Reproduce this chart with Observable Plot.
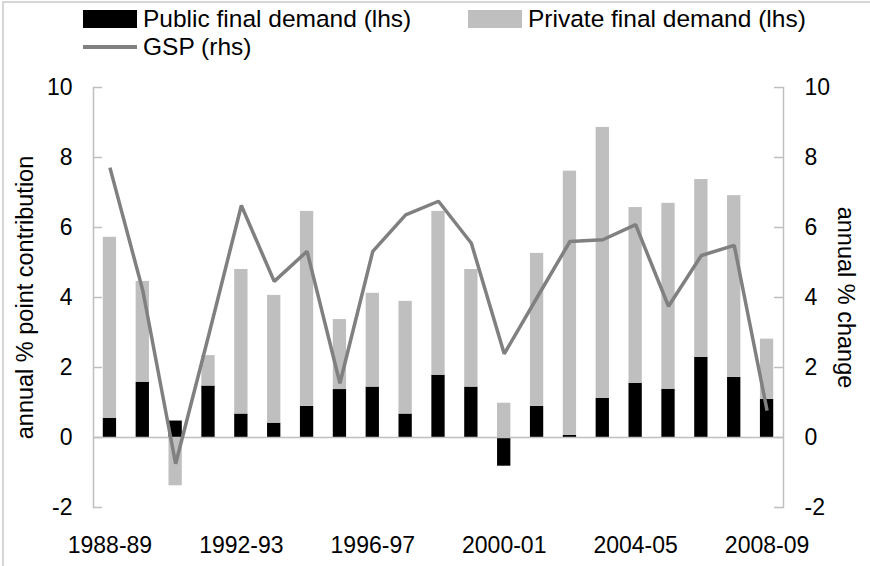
<!DOCTYPE html>
<html>
<head>
<meta charset="utf-8">
<script src="https://cdn.jsdelivr.net/npm/d3@7"></script>
<script src="https://cdn.jsdelivr.net/npm/@observablehq/plot@0.6"></script>
<style>
  body { margin: 0; background: #fff; }
  #wrap { position: relative; width: 870px; height: 566px; overflow: hidden;
          font-family: "Liberation Sans", Arial, sans-serif; background: #fff; }
  #chart { position: absolute; left: 0; top: 0; }
  #border { position: absolute; left: 2px; top: 1px; width: 900px; height: 600px;
            border-top: 2px solid #d6d6d6; border-left: 2px solid #d6d6d6; pointer-events: none; z-index: 2; }
  .sw { position: absolute; }
  .lt { position: absolute; font-size: 24.5px; line-height: 28px; color: #000; white-space: nowrap; }
</style>
</head>
<body>
<div id="wrap">
  <div id="chart"></div>
  <div id="border"></div>
  <div class="sw" style="left:83px;top:10px;width:54px;height:18px;background:#000"></div>
  <div class="lt" style="left:143px;top:5px">Public final demand (lhs)</div>
  <div class="sw" style="left:468px;top:10px;width:54px;height:18px;background:#bfbfbf"></div>
  <div class="lt" style="left:528px;top:5px">Private final demand (lhs)</div>
  <div class="sw" style="left:83px;top:45px;width:54px;height:4px;background:#808080"></div>
  <div class="lt" style="left:143px;top:33px">GSP (rhs)</div>
</div>
<script>
const years = ["1988-89","1989-90","1990-91","1991-92","1992-93","1993-94","1994-95","1995-96","1996-97","1997-98","1998-99","1999-00","2000-01","2001-02","2002-03","2003-04","2004-05","2005-06","2006-07","2007-08","2008-09"];
const publicDemand  = [0.55, 1.58, 0.47, 1.47, 0.67, 0.41, 0.89, 1.37, 1.44, 0.67, 1.78, 1.44, -0.82, 0.89, 0.06, 1.12, 1.55, 1.38, 2.29, 1.72, 1.09];
const privateDemand = [5.17, 2.88, -1.38, 0.87, 4.13, 3.65, 5.57, 2.00, 2.68, 3.22, 4.68, 3.36, 0.98, 4.37, 7.55, 7.74, 5.02, 5.31, 5.08, 5.19, 1.72];
const gsp           = [7.71, 4.20, -0.75, 2.90, 6.63, 4.46, 5.32, 1.55, 5.32, 6.36, 6.75, 5.55, 2.39, 4.00, 5.60, 5.65, 6.08, 3.75, 5.20, 5.49, 0.77];
const seriesNames = ["Public final demand (lhs)", "Private final demand (lhs)"];
const xTickLabels = ["1988-89","1992-93","1996-97","2000-01","2004-05","2008-09"];
const yTicks = [-2, 0, 2, 4, 6, 8, 10];
const leftTitle = "annual % point contribution";
const rightTitle = "annual % change";

const bars = years.flatMap((y, i) => [
  {year: y, series: seriesNames[0], value: publicDemand[i]},
  {year: y, series: seriesNames[1], value: privateDemand[i]}
]);
const line = years.map((y, i) => ({year: y, value: gsp[i]}));

const W = 870, H = 566, mL = 93, mR = 87, mT = 87, mB = 59;
const plotW = W - mL - mR;
const step = plotW / years.length;
const barInset = (step - 13.3) / 2;
const axisGray = "#bfbfbf";
const fmt = d => String(d);

const chart = Plot.plot({
  width: W, height: H,
  marginTop: mT, marginBottom: mB, marginLeft: mL, marginRight: mR,
  style: {fontFamily: '"Liberation Sans", Arial, sans-serif', fontSize: "23px", color: "#000", background: "transparent"},
  x: {type: "band", domain: years, padding: 0, round: false, axis: null},
  y: {domain: [-2, 10], axis: null},
  color: {domain: seriesNames, range: ["#000000", "#bfbfbf"]},
  marks: [
    Plot.barY(bars, {x: "year", y: "value", fill: "series", insetLeft: barInset, insetRight: barInset}),
    Plot.ruleY([0], {stroke: axisGray, strokeWidth: 1.5}),
    Plot.frame({anchor: "left", stroke: axisGray, strokeWidth: 1.5}),
    Plot.frame({anchor: "right", stroke: axisGray, strokeWidth: 1.5}),
    Plot.tickY(yTicks, {y: d => d, stroke: axisGray, strokeWidth: 1.5, insetRight: plotW - 9}),
    Plot.tickY(yTicks, {y: d => d, stroke: axisGray, strokeWidth: 1.5, insetLeft: plotW - 9}),
    Plot.lineY(line, {x: "year", y: "value", stroke: "#808080", strokeWidth: 3.5, strokeLinejoin: "miter", strokeLinecap: "butt"}),
    Plot.axisY(yTicks, {anchor: "left", tickSize: 0, tickPadding: 21, label: null, fontSize: 23, tickFormat: fmt}),
    Plot.axisY(yTicks, {anchor: "right", tickSize: 0, tickPadding: 21, label: null, fontSize: 23, tickFormat: fmt}),
    Plot.axisX(xTickLabels, {anchor: "bottom", tickSize: 0, tickPadding: 29, label: null, fontSize: 23}),
    Plot.text([leftTitle], {text: d => d, frameAnchor: "left", textAnchor: "middle", rotate: -90, dx: -68, fontSize: 23.5}),
    Plot.text([rightTitle], {text: d => d, frameAnchor: "right", textAnchor: "middle", rotate: 90, dx: 62, fontSize: 23.5})
  ]
});
document.getElementById("chart").appendChild(chart);
</script>
</body>
</html>
